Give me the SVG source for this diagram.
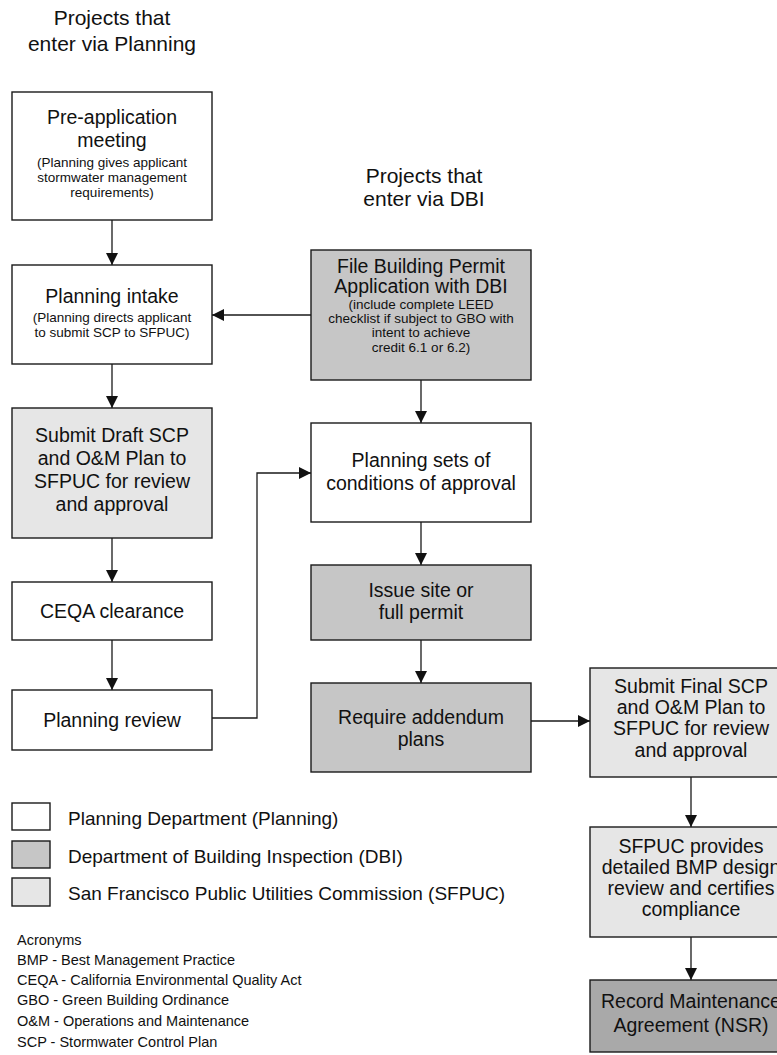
<svg xmlns="http://www.w3.org/2000/svg" width="777" height="1055" viewBox="0 0 777 1055">
<style>
.box{stroke:#1a1a1a;stroke-width:1.4}
.plan{fill:#ffffff}
.dbi{fill:#c6c6c6}
.puc{fill:#e6e6e6}
.rec{fill:#a9a9a9}
.t{font-family:"Liberation Sans",Arial,sans-serif;font-size:19.5px;fill:#111;text-anchor:middle}
.s{font-family:"Liberation Sans",Arial,sans-serif;font-size:13.5px;fill:#111;text-anchor:middle}
.h{font-family:"Liberation Sans",Arial,sans-serif;font-size:21px;fill:#111;text-anchor:middle}
.lg{font-family:"Liberation Sans",Arial,sans-serif;font-size:19px;fill:#111}
.ac{font-family:"Liberation Sans",Arial,sans-serif;font-size:14.5px;fill:#111}
.c{fill:none;stroke:#1a1a1a;stroke-width:1.3}
</style>
<defs>
<marker id="ah" markerUnits="userSpaceOnUse" markerWidth="12" markerHeight="12" refX="12" refY="6" orient="auto">
<path d="M0,0 L12,6 L0,12 z" fill="#111"/>
</marker>
</defs>
<rect width="777" height="1055" fill="#fff"/>

<g id="headings">
<text class="h" x="112" y="25">Projects that</text>
<text class="h" x="112" y="51">enter via Planning</text>
<text class="h" x="424" y="183">Projects that</text>
<text class="h" x="424" y="206">enter via DBI</text>
</g>

<g id="connectors">
<line class="c" x1="112" y1="220" x2="112" y2="265" marker-end="url(#ah)"/>
<line class="c" x1="112" y1="364" x2="112" y2="408" marker-end="url(#ah)"/>
<line class="c" x1="112" y1="538" x2="112" y2="582" marker-end="url(#ah)"/>
<line class="c" x1="112" y1="640" x2="112" y2="690" marker-end="url(#ah)"/>
<polyline class="c" points="212,718 257,718 257,473 311,473" marker-end="url(#ah)"/>
<line class="c" x1="311" y1="315" x2="212" y2="315" marker-end="url(#ah)"/>
<line class="c" x1="421" y1="380" x2="421" y2="423" marker-end="url(#ah)"/>
<line class="c" x1="421" y1="522" x2="421" y2="565" marker-end="url(#ah)"/>
<line class="c" x1="421" y1="640" x2="421" y2="683" marker-end="url(#ah)"/>
<line class="c" x1="531" y1="721" x2="590" y2="721" marker-end="url(#ah)"/>
<line class="c" x1="691" y1="777" x2="691" y2="827" marker-end="url(#ah)"/>
<line class="c" x1="691" y1="937" x2="691" y2="980" marker-end="url(#ah)"/>
</g>

<g id="pre-application">
<rect class="box plan" x="12" y="92" width="200" height="128"/>
<text class="t" x="112" y="124">Pre-application</text>
<text class="t" x="112" y="147">meeting</text>
<text class="s" x="112" y="167">(Planning gives applicant</text>
<text class="s" x="112" y="182">stormwater management</text>
<text class="s" x="112" y="197">requirements)</text>
</g>

<g id="planning-intake">
<rect class="box plan" x="12" y="265" width="200" height="99"/>
<text class="t" x="112" y="303">Planning intake</text>
<text class="s" x="112" y="322">(Planning directs applicant</text>
<text class="s" x="112" y="337">to submit SCP to SFPUC)</text>
</g>

<g id="submit-draft">
<rect class="box puc" x="12" y="408" width="200" height="130"/>
<text class="t" x="112" y="442">Submit Draft SCP</text>
<text class="t" x="112" y="465">and O&amp;M Plan to</text>
<text class="t" x="112" y="488">SFPUC for review</text>
<text class="t" x="112" y="511">and approval</text>
</g>

<g id="ceqa">
<rect class="box plan" x="12" y="582" width="200" height="58"/>
<text class="t" x="112" y="618">CEQA clearance</text>
</g>

<g id="planning-review">
<rect class="box plan" x="12" y="690" width="200" height="60"/>
<text class="t" x="112" y="727">Planning review</text>
</g>

<g id="file-permit">
<rect class="box dbi" x="311" y="250" width="220" height="130"/>
<text class="t" x="421" y="273">File Building Permit</text>
<text class="t" x="421" y="293">Application with DBI</text>
<text class="s" x="421" y="309">(include complete LEED</text>
<text class="s" x="421" y="323">checklist if subject to GBO with</text>
<text class="s" x="421" y="337">intent to achieve</text>
<text class="s" x="421" y="352">credit 6.1 or 6.2)</text>
</g>

<g id="planning-sets">
<rect class="box plan" x="311" y="423" width="220" height="99"/>
<text class="t" x="421" y="467">Planning sets of</text>
<text class="t" x="421" y="490">conditions of approval</text>
</g>

<g id="issue-permit">
<rect class="box dbi" x="311" y="565" width="220" height="75"/>
<text class="t" x="421" y="597">Issue site or</text>
<text class="t" x="421" y="619">full permit</text>
</g>

<g id="addendum">
<rect class="box dbi" x="311" y="683" width="220" height="89"/>
<text class="t" x="421" y="724">Require addendum</text>
<text class="t" x="421" y="746">plans</text>
</g>

<g id="submit-final">
<rect class="box puc" x="590" y="668" width="200" height="109"/>
<text class="t" x="691" y="693">Submit Final SCP</text>
<text class="t" x="691" y="714">and O&amp;M Plan to</text>
<text class="t" x="691" y="735">SFPUC for review</text>
<text class="t" x="691" y="757">and approval</text>
</g>

<g id="sfpuc-review">
<rect class="box puc" x="590" y="827" width="200" height="110"/>
<text class="t" x="691" y="853">SFPUC provides</text>
<text class="t" x="691" y="874">detailed BMP design</text>
<text class="t" x="691" y="895">review and certifies</text>
<text class="t" x="691" y="916">compliance</text>
</g>

<g id="record-agreement">
<rect class="box rec" x="590" y="980" width="200" height="72"/>
<text class="t" x="691" y="1008">Record Maintenance</text>
<text class="t" x="691" y="1032">Agreement (NSR)</text>
</g>

<g id="legend">
<rect class="box plan" x="12" y="803" width="38" height="27"/>
<rect class="box dbi" x="12" y="841" width="38" height="27"/>
<rect class="box puc" x="12" y="878" width="38" height="28"/>
<text class="lg" x="68" y="825">Planning Department (Planning)</text>
<text class="lg" x="68" y="863">Department of Building Inspection (DBI)</text>
<text class="lg" x="68" y="900">San Francisco Public Utilities Commission (SFPUC)</text>
</g>

<g id="acronyms">
<text class="ac" x="17" y="945">Acronyms</text>
<text class="ac" x="17" y="965">BMP - Best Management Practice</text>
<text class="ac" x="17" y="985">CEQA - California Environmental Quality Act</text>
<text class="ac" x="17" y="1005">GBO - Green Building Ordinance</text>
<text class="ac" x="17" y="1026">O&amp;M - Operations and Maintenance</text>
<text class="ac" x="17" y="1047">SCP - Stormwater Control Plan</text>
</g>
</svg>
